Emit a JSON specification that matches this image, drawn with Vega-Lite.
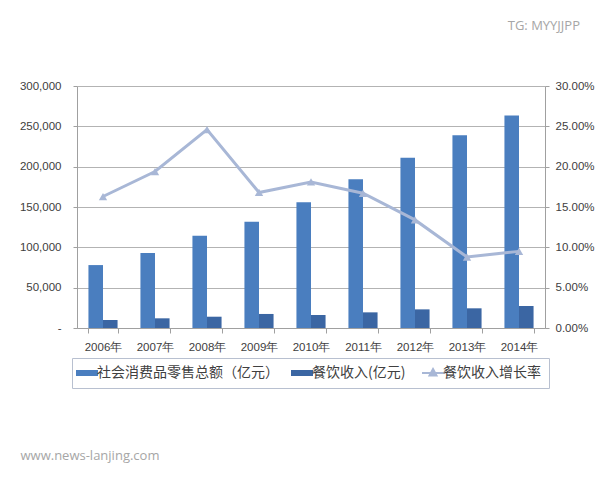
{
  "$schema": "https://vega.github.io/schema/vega-lite/v6.json",
  "autosize": "none",
  "width": 468,
  "height": 242,
  "padding": {"left": 77, "top": 86, "right": 55, "bottom": 152},
  "background": "white",
  "title": {"text": "TG: MYYJJPP", "anchor": "end", "frame": "group", "align": "right", "dx": 35, "offset": 47, "fontSize": 13, "color": "#a6a6a6", "font": "Open Sans", "fontWeight": "normal"},
  "config": {
    "view": {"stroke": null},
    "axis": {"labelFont": "Liberation Sans", "labelFontSize": 11.5, "labelColor": "#404040", "domainColor": "#a0a0a0", "tickColor": "#a0a0a0", "gridColor": "#b3b3b3", "titleFont": "Open Sans"}
  },
  "data": {"values": [
    {"year": "2006年", "series": "社会消费品零售总额（亿元）", "value": 78000},
    {"year": "2007年", "series": "社会消费品零售总额（亿元）", "value": 93000},
    {"year": "2008年", "series": "社会消费品零售总额（亿元）", "value": 114400},
    {"year": "2009年", "series": "社会消费品零售总额（亿元）", "value": 131800},
    {"year": "2010年", "series": "社会消费品零售总额（亿元）", "value": 156000},
    {"year": "2011年", "series": "社会消费品零售总额（亿元）", "value": 184300},
    {"year": "2012年", "series": "社会消费品零售总额（亿元）", "value": 211100},
    {"year": "2013年", "series": "社会消费品零售总额（亿元）", "value": 238900},
    {"year": "2014年", "series": "社会消费品零售总额（亿元）", "value": 263300},
    {"year": "2006年", "series": "餐饮收入(亿元)", "value": 9900},
    {"year": "2007年", "series": "餐饮收入(亿元)", "value": 12000},
    {"year": "2008年", "series": "餐饮收入(亿元)", "value": 14000},
    {"year": "2009年", "series": "餐饮收入(亿元)", "value": 17400},
    {"year": "2010年", "series": "餐饮收入(亿元)", "value": 16100},
    {"year": "2011年", "series": "餐饮收入(亿元)", "value": 19400},
    {"year": "2012年", "series": "餐饮收入(亿元)", "value": 23100},
    {"year": "2013年", "series": "餐饮收入(亿元)", "value": 24400},
    {"year": "2014年", "series": "餐饮收入(亿元)", "value": 27300},
    {"year": "2006年", "series": "餐饮收入增长率", "value": 0.163},
    {"year": "2007年", "series": "餐饮收入增长率", "value": 0.194},
    {"year": "2008年", "series": "餐饮收入增长率", "value": 0.246},
    {"year": "2009年", "series": "餐饮收入增长率", "value": 0.168},
    {"year": "2010年", "series": "餐饮收入增长率", "value": 0.181},
    {"year": "2011年", "series": "餐饮收入增长率", "value": 0.167},
    {"year": "2012年", "series": "餐饮收入增长率", "value": 0.134},
    {"year": "2013年", "series": "餐饮收入增长率", "value": 0.088},
    {"year": "2014年", "series": "餐饮收入增长率", "value": 0.095}
  ]},
  "encoding": {
    "x": {
      "field": "year", "type": "nominal", "sort": null,
      "scale": {"paddingInner": 0.44, "paddingOuter": 0.22},
      "axis": {"labelAngle": 0, "tickBand": "extent", "tickSize": 5, "labelPadding": 8, "grid": false,
        "title": "www.news-lanjing.com", "titleAnchor": "start", "titleX": -57, "titleY": 121, "titleColor": "#a6a6a6", "titleFontSize": 13, "titleFontWeight": "normal"}
    },
    "color": {
      "field": "series", "type": "nominal",
      "scale": {"domain": ["社会消费品零售总额（亿元）", "餐饮收入(亿元)", "餐饮收入增长率"], "range": ["#4a7ebf", "#3b66a3", "#a8b7d6"]},
      "legend": {
        "orient": "none", "legendX": -5, "legendY": 272, "direction": "horizontal", "title": null,
        "strokeColor": "#b8c0d0", "padding": 8, "symbolSize": 400, "labelFont": "Noto Sans CJK SC", "labelFontSize": 14, "labelLimit": 400, "labelColor": "#404040", "labelOffset": 3, "columnPadding": 12,
        "encode": {"symbols": {"update": {
          "shape": {"signal": "datum.value === '餐饮收入增长率' ? 'M-1.1,0H1.1M0,-0.4L0.35,0.25H-0.35Z' : 'M-1.1,-0.3H1.1V0.3H-1.1Z'"},
          "fill": {"scale": "color", "field": "value"},
          "stroke": {"scale": "color", "field": "value"},
          "strokeWidth": {"signal": "datum.value === '餐饮收入增长率' ? 2 : 0"},
          "opacity": {"value": 1}, "fillOpacity": {"value": 1}
        }}}
      }
    }
  },
  "layer": [
    {
      "transform": [{"filter": "datum.series !== '餐饮收入增长率'"}],
      "mark": {"type": "bar"},
      "encoding": {
        "xOffset": {"field": "series", "sort": ["社会消费品零售总额（亿元）", "餐饮收入(亿元)"]},
        "y": {"field": "value", "type": "quantitative", "scale": {"domain": [0, 300000]},
          "axis": {"title": null, "values": [0, 50000, 100000, 150000, 200000, 250000, 300000], "labelExpr": "datum.value === 0 ? '-' : format(datum.value, ',')", "tickSize": 4, "labelPadding": 12, "grid": true}}
      }
    },
    {
      "transform": [{"filter": "datum.series === '餐饮收入增长率'"}],
      "mark": {"type": "line", "strokeWidth": 3, "point": {"shape": "triangle-up", "size": 70, "filled": true, "color": "#a8b7d6"}},
      "encoding": {
        "y": {"field": "value", "type": "quantitative", "scale": {"domain": [0, 0.3]},
          "axis": {"orient": "right", "title": null, "format": ".2%", "values": [0, 0.05, 0.1, 0.15, 0.2, 0.25, 0.3], "tickSize": 4, "labelPadding": 6, "grid": false}}
      }
    }
  ],
  "resolve": {"scale": {"y": "independent"}}
}
